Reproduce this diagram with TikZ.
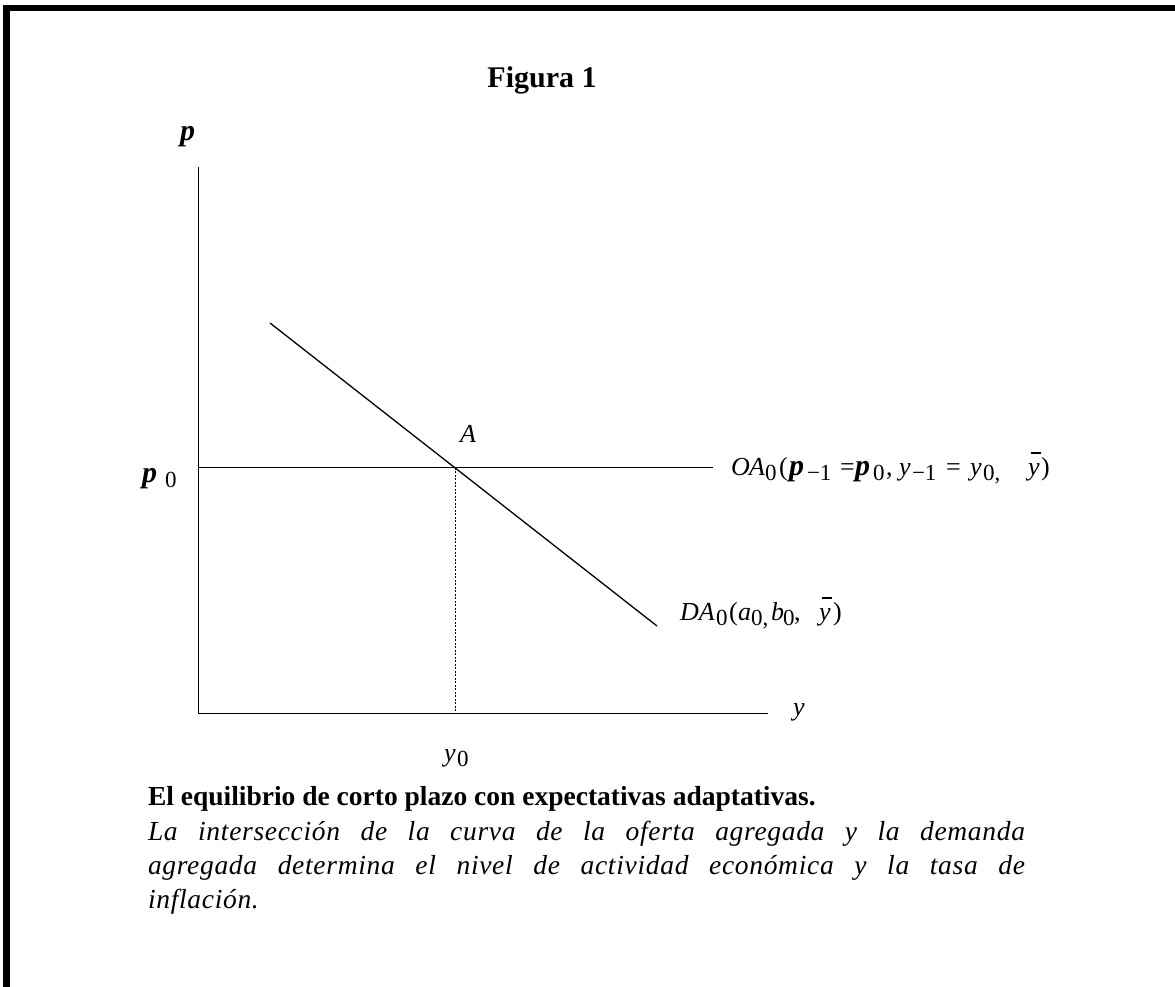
\documentclass[tikz,border=0pt]{standalone}
\usepackage{fontspec}
\setmainfont{Liberation Serif}
\newcommand\mf{\fontsize{26}{30}\selectfont}
\newcommand\sbf{\fontsize{23}{26}\selectfont}
\newcommand\sbx[1]{\raisebox{-5pt}{\sbf #1}}
\newcommand\pp{{\fontsize{30}{32}\selectfont\bfseries\itshape p}}
\newcommand\ybar{\makebox[0pt][l]{\hspace{3pt}\rule[21.5pt]{10pt}{1.1pt}}\textit{y}}
\newcommand\pc[2]{\makebox[#1pt][l]{#2}}
\newcommand\cf{\fontsize{27.5}{34}\selectfont}
\newcommand\itl{\itshape\addfontfeatures{LetterSpace=2.5}}
\tikzset{
  ax/.style={line width=1.7pt},
  ln/.style={line width=1.3pt},
  dotln/.style={line width=0.8pt, dash pattern=on 2pt off 1.5pt},
  lbl/.style={anchor=base west, inner sep=0pt, outer sep=0pt},
}
\begin{document}
\begin{tikzpicture}[x=1pt,y=-1pt]
\useasboundingbox (0,0) rectangle (1175,987);
% frame
\fill (3,5) rectangle (10,987);
\fill (3,5) rectangle (1175,11);
% title
\node[anchor=base, inner sep=0pt] (title) at (542,88) {\fontsize{30}{36}\selectfont\bfseries Figura 1};
% axes
\coordinate (O) at (198.5,713.5);
\coordinate (ytop) at (198.5,167);
\coordinate (xend) at (768,713.5);
\draw[ax] (ytop) -- (O) -- (xend);
% OA line
\coordinate (pl) at (198.5,467.5);
\coordinate (pr) at (713,467.5);
\draw[ln] (pl) -- (pr);
% DA line
\coordinate (d1) at (270,323);
\coordinate (d2) at (657,626);
\draw[ln] (d1) -- (d2);
% equilibrium
\coordinate (E) at (455,467.5);
\coordinate (Ey) at (455,713.5);
\draw[dotln] (E) -- (Ey);
% labels
\node[lbl] (plab) at (180,141) {\pp};
\node[lbl] (ylab) at (793,715) {\mf\textit{y}};
\node[lbl] (p0) at (142,482) {\mf\pc{23}{\pp}\sbx{0}};
\node[lbl] (Alab) at (460,442) {\mf\textit{A}};
\node[lbl] (y0) at (444,761) {\mf\pc{13}{\textit{y}}\sbx{0}};
\node[lbl] (oa) at (731,475) {\mf\pc{18}{\textit{O}}\pc{16}{\textit{A}}\pc{14}{\sbx{0}}\pc{10}{(}\pc{18}{\pp}\pc{33}{\sbx{−1}}\pc{15}{=}\pc{18}{\pp}\pc{13}{\sbx{0}}\pc{13}{,}\pc{13}{\textit{y}}\pc{34}{\sbx{−1}}\pc{24}{=}\pc{13}{\textit{y}}\pc{45}{\sbx{0,}}\pc{13}{\ybar})};
\node[lbl] (da) at (680,620) {\mf\pc{19}{\textit{D}}\pc{17}{\textit{A}}\pc{13}{\sbx{0}}\pc{9}{(}\pc{13}{\textit{a}}\pc{20}{\sbx{0,}}\pc{12}{\textit{b}}\pc{11}{\sbx{0}}\pc{25}{,}\pc{14}{\ybar})};
% caption
\node[lbl] (cap) at (148,805) {\cf\bfseries El equilibrio de corto plazo con expectativas adaptativas.};
\node[lbl] (l1) at (148,840) {\cf\itl\makebox[877pt][s]{La intersección de la curva de la oferta agregada y la demanda}};
\node[lbl] (l2) at (148,874) {\cf\itl\makebox[877pt][s]{agregada determina el nivel de actividad económica y la tasa de}};
\node[lbl] (l3) at (148,908) {\cf\itl inflación.};
\end{tikzpicture}
\end{document}
